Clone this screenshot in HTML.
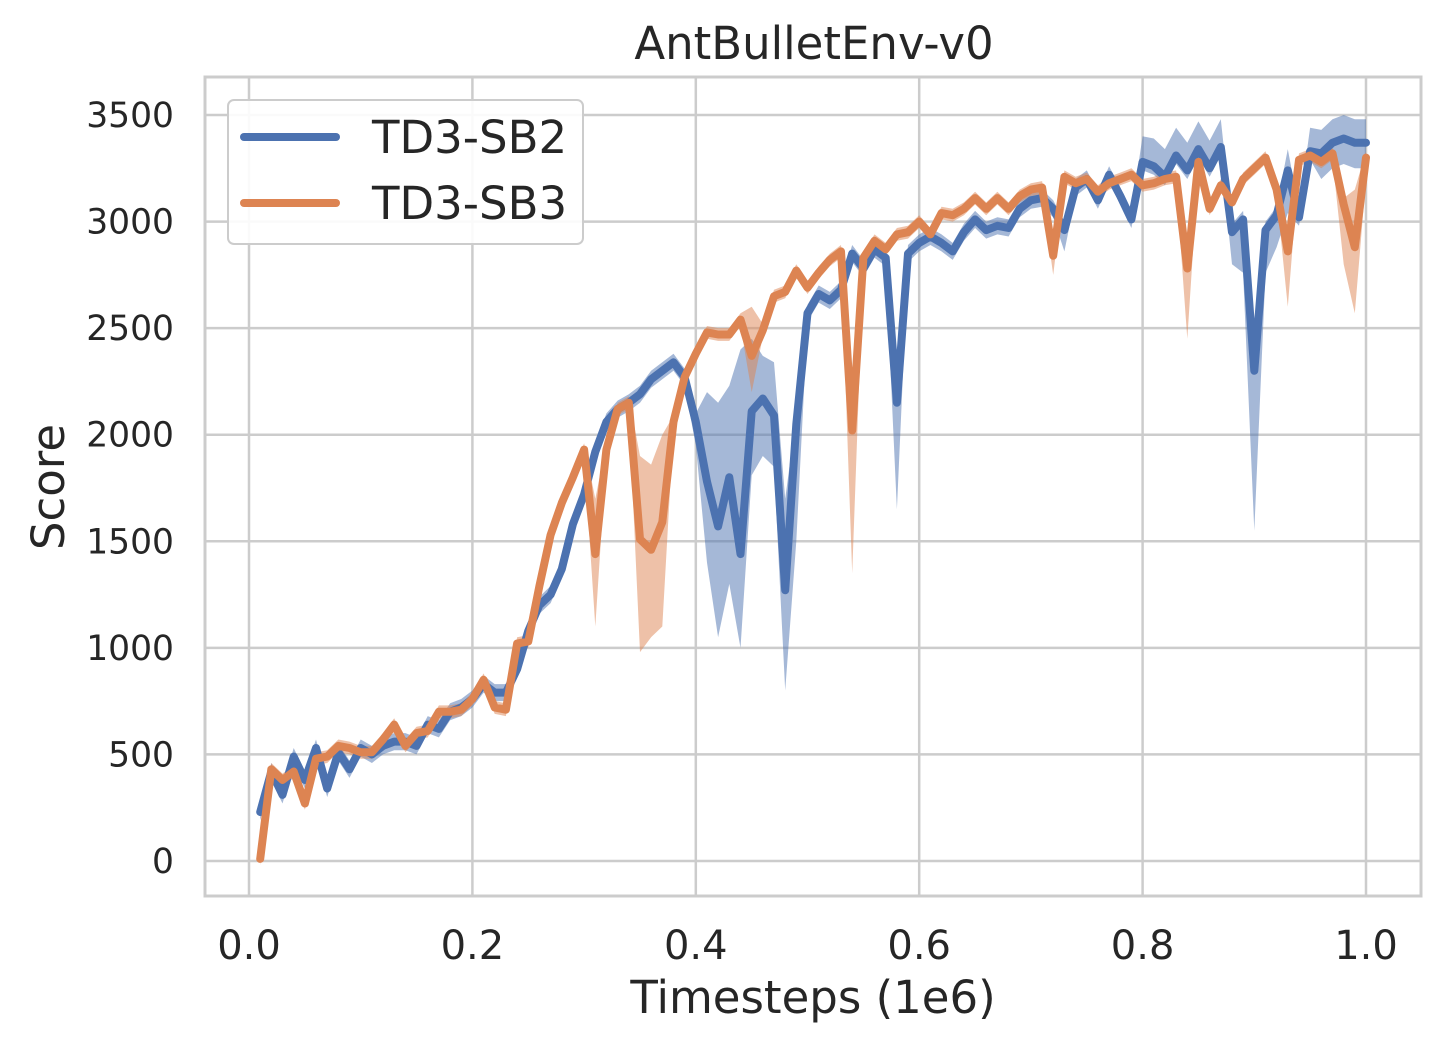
<!DOCTYPE html>
<html><head><meta charset="utf-8"><style>
body{margin:0;background:#fff;}
svg text{font-family:"DejaVu Sans","Liberation Sans",sans-serif;fill:#262626;}
</style></head><body>
<svg id="chart" width="1448" height="1050" xmlns="http://www.w3.org/2000/svg">
<rect width="1448" height="1050" fill="#fff"/>
<g id="grid"></g>
<g id="bands"></g>
<g id="lines"></g>
<rect x="205" y="77" width="1216" height="819" fill="none" stroke="#cccccc" stroke-width="3"/>
<g id="ticks"></g>
<text x="814" y="59" font-size="45" text-anchor="middle">AntBulletEnv-v0</text>
<text x="813" y="1013" font-size="45" text-anchor="middle">Timesteps (1e6)</text>
<text x="64" y="487" font-size="45" text-anchor="middle" transform="rotate(-90 64 487)">Score</text>
<g>
<rect x="228" y="100" width="355" height="144" rx="6" fill="#fff" fill-opacity="0.9" stroke="#cccccc" stroke-width="2"/>
<line x1="244" y1="137" x2="336" y2="137" stroke="#4c72b0" stroke-width="8" stroke-linecap="round"/>
<text x="372" y="153" font-size="45">TD3-SB2</text>
<line x1="244" y1="203" x2="336" y2="203" stroke="#dd8452" stroke-width="8" stroke-linecap="round"/>
<text x="372" y="219" font-size="45">TD3-SB3</text>
</g>
</svg>
<script>
const xTicks=[0,0.2,0.4,0.6,0.8,1.0];
const xTickLabels=["0.0","0.2","0.4","0.6","0.8","1.0"];
const yTicks=[0,500,1000,1500,2000,2500,3000,3500];
const timesteps=Array.from({length:100},(_,i)=>(i+1)/100);
const sb2=[230,420,310,490,380,530,340,510,430,530,500,540,560,560,540,640,620,700,720,760,830,790,790,900,1080,1200,1250,1370,1580,1720,1920,2060,2120,2150,2190,2260,2300,2340,2270,2060,1780,1570,1800,1440,2110,2170,2090,1270,2050,2570,2660,2630,2680,2850,2780,2870,2830,2150,2850,2900,2930,2900,2860,2950,3010,2960,2980,2970,3060,3100,3110,3060,2960,3160,3200,3100,3220,3120,3010,3280,3260,3210,3310,3240,3340,3250,3350,2950,3010,2300,2960,3030,3240,3020,3330,3320,3370,3390,3370,3370];
const sb3=[10,430,380,420,270,480,490,540,530,510,510,570,640,540,600,610,700,700,710,760,850,720,710,1020,1030,1290,1530,1680,1800,1930,1440,1930,2120,2150,1510,1460,1590,2060,2270,2380,2480,2470,2470,2540,2370,2490,2650,2670,2770,2690,2760,2820,2860,2020,2830,2910,2870,2940,2950,3000,2940,3040,3030,3060,3110,3060,3110,3060,3120,3150,3160,2840,3210,3180,3200,3140,3180,3200,3220,3170,3180,3200,3210,2780,3280,3060,3170,3090,3200,3250,3300,3150,2860,3290,3310,3280,3320,3080,2880,3300];
const sb2Down=[40,40,40,40,40,40,40,40,40,40,40,40,40,40,40,40,40,40,40,40,40,40,40,40,40,40,40,40,40,40,40,40,40,40,40,40,40,40,40,110,380,520,500,440,300,270,240,470,550,40,40,40,40,40,40,40,40,500,40,40,40,40,40,40,40,40,40,40,40,40,40,40,100,40,40,40,40,40,40,40,40,40,40,40,40,40,40,150,250,750,200,150,200,40,40,120,120,120,120,120];
const sb2Up=[40,40,40,40,40,40,40,40,40,40,40,40,40,40,40,40,40,40,40,40,40,40,40,40,40,40,40,40,40,40,40,40,40,40,40,40,40,40,40,40,420,580,430,960,340,200,250,430,40,40,40,40,40,40,40,40,40,40,40,40,40,40,40,40,40,40,40,40,40,40,40,40,40,40,40,40,40,40,40,120,130,130,130,130,130,130,130,40,40,40,40,40,100,40,110,110,110,110,110,110];
const sb3Down=[30,30,30,30,30,30,30,30,30,30,30,30,30,30,30,30,30,30,30,30,30,30,30,30,30,30,30,30,30,30,340,30,30,30,530,410,490,30,30,30,30,30,30,30,170,30,30,30,30,30,30,30,30,670,30,30,30,30,30,30,30,30,30,30,30,30,30,30,30,30,30,90,30,30,30,30,30,30,30,30,30,30,30,330,30,30,30,30,30,30,30,30,260,30,30,30,30,280,310,100];
const sb3Up=[30,30,30,30,30,30,30,30,30,30,30,30,30,30,30,30,30,30,30,30,30,30,30,30,30,30,30,30,30,30,260,30,30,30,390,400,410,30,30,30,30,30,30,30,230,30,30,30,30,30,30,30,30,280,30,30,30,30,30,30,30,30,30,30,30,30,30,30,30,30,30,30,30,30,30,30,30,30,30,30,30,30,30,30,30,30,30,30,30,30,30,30,30,30,30,30,30,30,270,30];

const NS="http://www.w3.org/2000/svg";
const sx=v=>249+v*1117;
const sy=v=>861-v*0.21314;
function mk(tag,attrs,parent){const e=document.createElementNS(NS,tag);for(const k in attrs)e.setAttribute(k,attrs[k]);parent.appendChild(e);return e;}
const grid=document.getElementById('grid'),ticks=document.getElementById('ticks');
xTicks.forEach((t,i)=>{
  const l=mk('line',{x1:sx(t),x2:sx(t),y1:77,y2:896,stroke:'#cccccc','stroke-width':2.5},grid);
  
  
  const tx=mk('text',{x:sx(t),y:959,'font-size':40,'text-anchor':'middle'},ticks);
  tx.textContent=xTickLabels[i];
  
  
});
yTicks.forEach(t=>{
  const l=mk('line',{x1:205,x2:1421,y1:sy(t),y2:sy(t),stroke:'#cccccc','stroke-width':2.5},grid);
  
  
  const tx=mk('text',{x:174,y:sy(t)+12,'font-size':34.5,'text-anchor':'end'},ticks);
  tx.textContent=String(t);
  
  
});
function band(vals,dn,up,color,name){
  let d='';
  vals.forEach((v,i)=>{d+=(i?'L':'M')+sx(timesteps[i]).toFixed(1)+','+sy(v+up[i]).toFixed(1);});
  for(let i=vals.length-1;i>=0;i--)d+='L'+sx(timesteps[i]).toFixed(1)+','+sy(vals[i]-dn[i]).toFixed(1);
  const p=mk('path',{d:d+'Z',fill:color,'fill-opacity':0.5,stroke:'none'},document.getElementById('bands'));
  
  
}
function line(vals,color,name){
  const pts=vals.map((v,i)=>sx(timesteps[i]).toFixed(1)+','+sy(v).toFixed(1)).join(' ');
  const p=mk('polyline',{points:pts,fill:'none',stroke:color,'stroke-width':8,'stroke-linejoin':'round','stroke-linecap':'round'},document.getElementById('lines'));
  
  
}
band(sb2,sb2Down,sb2Up,'#4c72b0','sb2-band');
band(sb3,sb3Down,sb3Up,'#dd8452','sb3-band');
line(sb2,'#4c72b0','sb2-line');
line(sb3,'#dd8452','sb3-line');
</script>
</body></html>
